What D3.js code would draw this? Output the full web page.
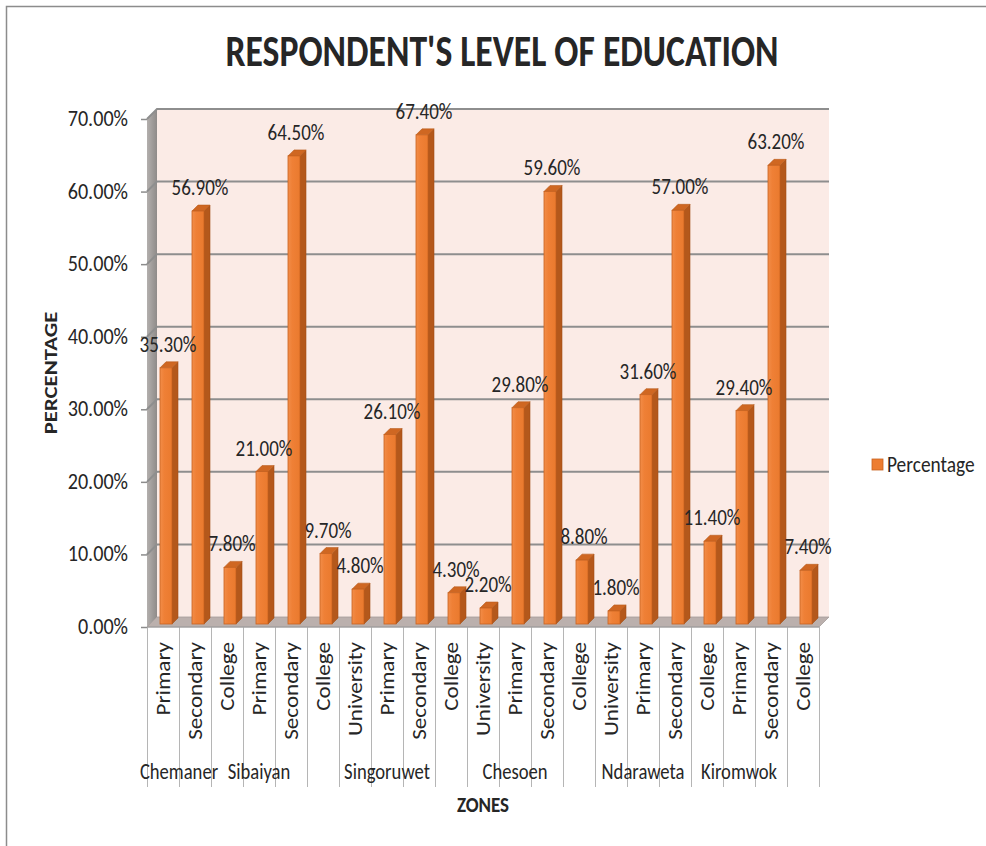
<!DOCTYPE html>
<html>
<head>
<meta charset="utf-8">
<script src="https://cdn.jsdelivr.net/npm/d3@7/dist/d3.min.js"></script>
<style>
  html, body { margin: 0; padding: 0; background: #ffffff; }
  svg { display: block; }
  text { font-family: Carlito, Lato, "Liberation Sans", sans-serif; fill: #262626; }
</style>
</head>
<body>
<svg id="chart" width="986" height="846"></svg>
<script>
// ---- data ----
const levels = ["Primary", "Secondary", "College", "Primary", "Secondary", "College", "University",
  "Primary", "Secondary", "College", "University", "Primary", "Secondary", "College", "University",
  "Primary", "Secondary", "College", "Primary", "Secondary", "College"];
const percentages = [35.3, 56.9, 7.8, 21.0, 64.5, 9.7, 4.8, 26.1, 67.4, 4.3, 2.2, 29.8, 59.6, 8.8, 1.8,
  31.6, 57.0, 11.4, 29.4, 63.2, 7.4];
const zoneNames = ["Chemaner", "Sibaiyan", "Singoruwet", "Chesoen", "Ndaraweta", "Kiromwok"];
const zoneStarts = [0, 2, 5, 10, 13, 18];
const zoneEnds = [2, 5, 10, 13, 18, 19];
const yTicks = [0, 10, 20, 30, 40, 50, 60, 70];
const seriesName = "Percentage";

// ---- layout ----
const svg = d3.select("#chart");
const left = 147, right = 819, floorY = 627, topY = 119;
const depth = 10;               // wall depth offset (x right, y up)
const barZ0 = 3, barZ1 = 9;     // bar depth range inside the plot
const barW = 12;
const tallY = 1.18;             // glyphs are drawn slightly tall

const x = d3.scaleBand().domain(d3.range(levels.length)).range([left, right]).padding(0);
const y = d3.scaleLinear().domain([0, 70]).range([floorY, topY]);

const fmt = d => d3.format(".2f")(d) + "%";

const defs = svg.append("defs");
const sideGrad = defs.append("linearGradient").attr("id", "sideWall").attr("x1", 0).attr("x2", 1).attr("y1", 0).attr("y2", 0);
sideGrad.append("stop").attr("offset", "0%").attr("stop-color", "#b3afad");
sideGrad.append("stop").attr("offset", "100%").attr("stop-color", "#8f8b89");
const frontGrad = defs.append("linearGradient").attr("id", "barFront").attr("x1", 0).attr("x2", 1).attr("y1", 0).attr("y2", 0);
frontGrad.append("stop").attr("offset", "0%").attr("stop-color", "#f28d49");
frontGrad.append("stop").attr("offset", "35%").attr("stop-color", "#ef8036");
frontGrad.append("stop").attr("offset", "100%").attr("stop-color", "#ea7a2e");

const pt = (px, py, z) => [px + z, py - z];
const poly = pts => pts.map(p => p.join(",")).join(" ");

// outer chart border
svg.append("path").attr("d", "M6.5,846 L6.5,6.5 L986,6.5")
  .attr("fill", "none").attr("stroke", "#8c8c8c").attr("stroke-width", 1.5);

// back wall
svg.append("polygon")
  .attr("points", poly([pt(left, topY, depth), pt(right, topY, depth), pt(right, floorY, depth), pt(left, floorY, depth)]))
  .attr("fill", "#fbebe6");

// side wall
svg.append("polygon")
  .attr("points", poly([[left, topY], pt(left, topY, depth), pt(left, floorY, depth), [left, floorY]]))
  .attr("fill", "url(#sideWall)");

// floor
svg.append("polygon")
  .attr("points", poly([[left, floorY], pt(left, floorY, depth), pt(right, floorY, depth), [right, floorY]]))
  .attr("fill", "#bbb0ad").attr("stroke", "#a59c99").attr("stroke-width", 0.8);

// gridlines on the back wall and side wall
const grid = svg.append("g");
yTicks.filter(t => t > 0).forEach(t => {
  const yy = y(t);
  grid.append("path")
    .attr("d", `M${left},${yy} L${left + depth},${yy - depth} L${right + depth},${yy - depth}`)
    .attr("fill", "none").attr("stroke", "#8e8e8e").attr("stroke-width", 2);
});

// y axis ticks and labels
const yAxis = d3.axisLeft(y).tickValues(yTicks).tickSize(6).tickPadding(13).tickFormat(fmt);
const yg = svg.append("g").attr("transform", `translate(${left},0)`).call(yAxis);
yg.select(".domain").remove();
yg.selectAll(".tick line").attr("stroke", "#8c8c8c").attr("stroke-width", 1.5);
yg.selectAll(".tick text")
  .attr("font-size", 19).attr("fill", "#262626")
  .style("font-family", "Carlito, Lato, sans-serif")
  .attr("dy", null)
  .attr("transform", function () {
    const tx = +d3.select(this).attr("x");
    d3.select(this).attr("x", 0);
    return `translate(${tx},6.5) scale(1.06,${tallY})`;
  });

// 3D columns
const bars = svg.append("g");
percentages.forEach((v, i) => {
  const cx = x(i) + x.bandwidth() / 2;
  const x0 = cx - barW / 2, x1 = cx + barW / 2;
  const yt = y(v), yb = y(0);
  const g = bars.append("g");
  // right side face
  g.append("polygon")
    .attr("points", poly([pt(x1, yt, barZ0), pt(x1, yt, barZ1), pt(x1, yb, barZ1), pt(x1, yb, barZ0)]))
    .attr("fill", "#b4581b").attr("stroke", "#a14f17").attr("stroke-width", 0.6);
  // top face
  g.append("polygon")
    .attr("points", poly([pt(x0, yt, barZ0), pt(x0, yt, barZ1), pt(x1, yt, barZ1), pt(x1, yt, barZ0)]))
    .attr("fill", "#cf6722").attr("stroke", "#b85c1d").attr("stroke-width", 0.6);
  // front face
  const f0 = pt(x0, yt, barZ0), f1 = pt(x1, yb, barZ0);
  g.append("rect")
    .attr("x", f0[0]).attr("y", f0[1]).attr("width", f1[0] - f0[0]).attr("height", f1[1] - f0[1])
    .attr("fill", "url(#barFront)").attr("stroke", "#c8621f").attr("stroke-width", 0.8);
});

// value labels
svg.append("g").selectAll("text").data(percentages).join("text")
  .attr("transform", (d, i) => `translate(${x(i) + x.bandwidth() / 2 + barZ0 + 2},${y(d) - 19}) scale(1,${tallY})`)
  .attr("text-anchor", "middle")
  .attr("font-size", 19)
  .text(fmt);

// category axis: separators and rotated level labels
const catG = svg.append("g");
d3.range(levels.length + 1).forEach(k => {
  const xx = k < levels.length ? x(k) : right;
  catG.append("line").attr("x1", xx + 0.5).attr("x2", xx + 0.5).attr("y1", floorY).attr("y2", 787)
    .attr("stroke", "#b5b5b5").attr("stroke-width", 1);
});
catG.selectAll("text.level").data(levels).join("text")
  .attr("class", "level")
  .attr("transform", (d, i) => `translate(${x(i) + x.bandwidth() / 2},642) rotate(-90) scale(1.1,1)`)
  .attr("text-anchor", "end")
  .attr("dy", "0.33em")
  .attr("font-size", 21)
  .text(d => d);

// zone labels
catG.selectAll("text.zone").data(zoneNames).join("text")
  .attr("class", "zone")
  .attr("transform", (d, i) => {
    const cx = (x(zoneStarts[i]) + (zoneEnds[i] < levels.length ? x(zoneEnds[i]) : right)) / 2;
    return `translate(${cx},779) scale(0.98,${tallY})`;
  })
  .attr("text-anchor", "middle")
  .attr("font-size", 19)
  .text(d => d);

// floor front edge
svg.append("line").attr("x1", left).attr("x2", right).attr("y1", floorY).attr("y2", floorY)
  .attr("stroke", "#9c9c9c").attr("stroke-width", 1);

// titles
svg.append("text").attr("transform", "translate(502,66) scale(1,1.15)").attr("text-anchor", "middle")
  .attr("font-size", 38).attr("font-weight", "bold").attr("fill", "#000")
  .attr("textLength", 553).attr("lengthAdjust", "spacingAndGlyphs")
  .text("RESPONDENT'S LEVEL OF EDUCATION");

svg.append("text").attr("transform", "translate(57,373) rotate(-90) scale(1.2,1)")
  .attr("text-anchor", "middle").attr("font-size", 19).attr("font-weight", "bold").attr("fill", "#000")
  .text("PERCENTAGE");

svg.append("text").attr("transform", `translate(483,812) scale(1,${tallY})`).attr("text-anchor", "middle")
  .attr("font-size", 19).attr("font-weight", "bold").attr("fill", "#000")
  .text("ZONES");

// legend
const lg = svg.append("g").attr("transform", "translate(872,459)");
lg.append("rect").attr("width", 11).attr("height", 11).attr("fill", "#ed7d31").attr("stroke", "#c8621f").attr("stroke-width", 0.8);
lg.append("text").attr("transform", `translate(15,12.5) scale(1.02,${tallY})`).attr("font-size", 19).text(seriesName);
</script>
</body>
</html>
